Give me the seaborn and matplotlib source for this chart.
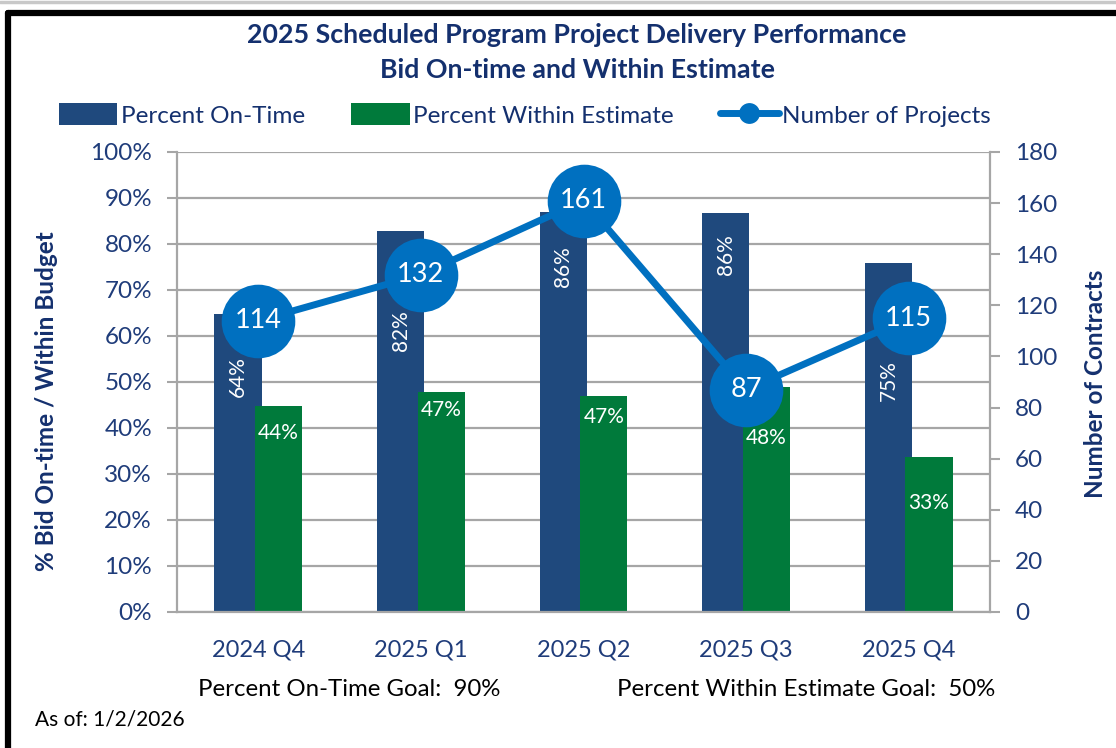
import matplotlib
matplotlib.use("Agg")
import matplotlib.pyplot as plt
import matplotlib.ticker as mticker
from matplotlib.lines import Line2D
from matplotlib.patches import Patch
import numpy as np
import pandas as pd
import seaborn as sns

# data
quarters = ["2024 Q4", "2025 Q1", "2025 Q2", "2025 Q3", "2025 Q4"]
pct_on_time = [64.8, 82.8, 86.9, 86.8, 75.9]
pct_within_estimate = [44.8, 47.8, 47.0, 48.9, 33.7]
num_projects = [114, 132, 161, 87, 115]
series_names = ["Percent On-Time", "Percent Within Estimate", "Number of Projects"]

# where the value labels sit inside the bars (in % units)
on_time_label_y = [51.1, 61.1, 75.0, 77.6, 50.4]
within_label_y = [38.9, 43.9, 42.4, 37.8, 23.7]

BLUE = "#1F497D"
GREEN = "#007A3B"
LINE = "#0070C0"
NAVY = "#14306E"
TICK = "#1F3C7A"
GRID = "#A6A6A6"

sns.set_theme(style="white")
plt.rcParams["font.family"] = ["Lato", "DejaVu Sans"]

df = pd.DataFrame({
    "Quarter": quarters * 2,
    "Series": [series_names[0]] * 5 + [series_names[1]] * 5,
    "Value": pct_on_time + pct_within_estimate,
})

fig = plt.figure(figsize=(11.16, 7.48), dpi=100)
ax = fig.add_axes([177 / 1116, 1 - 612 / 748, (990 - 177) / 1116, (612 - 152) / 748])

sns.barplot(data=df, x="Quarter", y="Value", hue="Series", palette=[BLUE, GREEN],
            width=0.5, saturation=1, ax=ax, legend=False, edgecolor="none", linewidth=0)
# Excel-style overlap: widen the bars a little around their centres
for cont in ax.containers:
    for bar in cont:
        cx = bar.get_x() + bar.get_width() / 2
        bar.set_width(0.29)
        bar.set_x(cx - 0.145)

ax.set_xlim(-0.5, len(quarters) - 0.5)
ax.set_ylim(0, 100)
ax.set_yticks(np.arange(0, 101, 10))
ax.yaxis.set_major_formatter(mticker.FuncFormatter(lambda v, p: f"{v:.0f}%"))
ax.yaxis.grid(True, color=GRID, linewidth=1.6)
ax.set_axisbelow(True)
ax.set_xlabel("")
ax.set_ylabel("% Bid On-time / Within Budget", fontsize=17.5, fontweight="bold", color=NAVY)
ax.yaxis.set_label_coords(-0.146, 0.459)
ax.set_xticks(range(len(quarters)))
ax.set_xticklabels(quarters)
ax.set_xticks(np.arange(-0.5, len(quarters)), minor=True)
ax.tick_params(axis="x", which="major", length=0, pad=20, labelsize=17, labelcolor=TICK)
ax.tick_params(axis="x", which="minor", length=7, width=1.5, color=GRID, direction="out")
ax.tick_params(axis="y", length=7, width=1.5, color=GRID, direction="out", labelsize=17.5, labelcolor=TICK, pad=11)
for side in ["top", "right"]:
    ax.spines[side].set_visible(False)
for side in ["left", "bottom"]:
    ax.spines[side].set_color(GRID)
    ax.spines[side].set_linewidth(1.6)

# labels inside the bars
for bar, val, ly in zip(ax.containers[0], pct_on_time, on_time_label_y):
    ax.text(bar.get_x() + bar.get_width() / 2, ly, f"{int(val)}%", rotation=90,
            ha="center", va="center", color="white", fontsize=15)
for bar, val, ly in zip(ax.containers[1], pct_within_estimate, within_label_y):
    ax.text(bar.get_x() + bar.get_width() / 2, ly, f"{int(val)}%",
            ha="center", va="center", color="white", fontsize=15)

# number of projects on the secondary axis
ax2 = ax.twinx()
sns.lineplot(x=np.arange(len(quarters)), y=num_projects, ax=ax2, color=LINE, linewidth=5,
             marker="o", markersize=53, markeredgewidth=0, sort=False)
for i, n in enumerate(num_projects):
    ax2.text(i, n, str(n), ha="center", va="center", color="white", fontsize=19.5)
ax2.set_ylim(0, 180)
ax2.set_yticks(np.arange(0, 181, 20))
ax2.set_ylabel("Number of Contracts", fontsize=17.5, fontweight="bold", color=NAVY)
ax2.yaxis.set_label_coords(1.1156, 0.496)
ax2.tick_params(axis="y", length=7, width=1.5, color=GRID, direction="out", labelsize=17.5, labelcolor=TICK, pad=11)
for side in ["top", "left", "bottom"]:
    ax2.spines[side].set_visible(False)
ax2.spines["right"].set_color(GRID)
ax2.spines["right"].set_linewidth(1.6)

# title
fig.text(577 / 1116, 1 - 35 / 748, "2025 Scheduled Program Project Delivery Performance",
         ha="center", va="center", fontsize=19.3, fontweight="bold", color=NAVY)
fig.text(577 / 1116, 1 - 70 / 748, "Bid On-time and Within Estimate",
         ha="center", va="center", fontsize=19.3, fontweight="bold", color=NAVY)

# legend
handles = [
    Patch(facecolor=BLUE, edgecolor="none"),
    Patch(facecolor=GREEN, edgecolor="none"),
    Line2D([0], [0], color=LINE, linewidth=5, marker="o", markersize=15, markeredgewidth=0),
]
leg = fig.legend(handles, series_names, loc="center", bbox_to_anchor=(525 / 1116, 1 - 115 / 748),
                 ncol=3, frameon=False, fontsize=17.5, handlelength=2.4, handleheight=1.0,
                 handletextpad=0.15, columnspacing=1.9, labelcolor=NAVY)

# goal notes and date
fig.text(198 / 1116, 1 - 690 / 748, "Percent On-Time Goal:  90%", ha="left", va="center",
         fontsize=17.3, color="black")
fig.text(617 / 1116, 1 - 690 / 748, "Percent Within Estimate Goal:  50%", ha="left", va="center",
         fontsize=17.3, color="black")
fig.text(35 / 1116, 1 - 720 / 748, "As of: 1/2/2026", ha="left", va="center", fontsize=15, color="black")

# frame edges from the screenshot
fig.add_artist(Line2D([0, 1], [1 - 2 / 748] * 2, color="#C8C8C8", linewidth=2.5))
fig.add_artist(Line2D([8 / 1116, 1], [1 - 13 / 748] * 2, color="black", linewidth=4.5))
fig.add_artist(Line2D([8 / 1116] * 2, [0, 1 - 13 / 748], color="black", linewidth=4.5))

fig.savefig("out.png", dpi=100)
